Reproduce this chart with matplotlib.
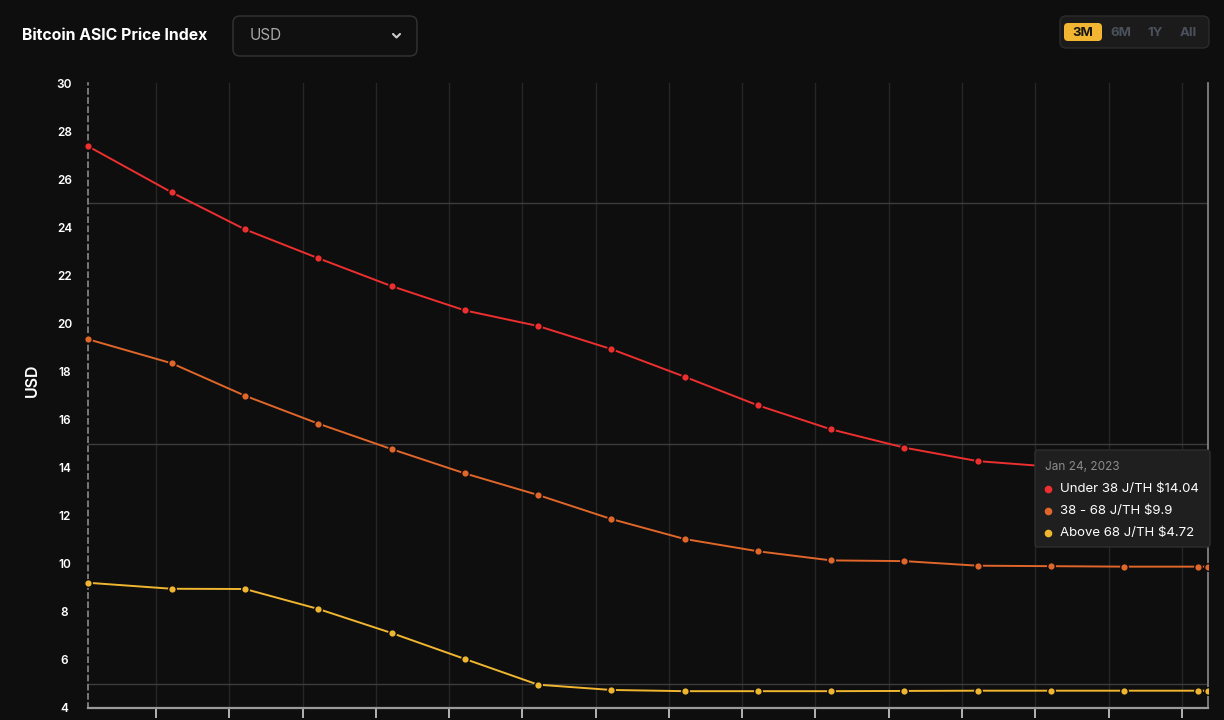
import numpy as np
import pandas as pd
import matplotlib
matplotlib.use("Agg")
import matplotlib.pyplot as plt
import matplotlib.dates as mdates
from matplotlib.patches import FancyBboxPatch, Rectangle
from matplotlib.ticker import MultipleLocator

plt.rcParams['font.family'] = ['Inter', 'DejaVu Sans']

# -------------------------------
# data
# -------------------------------
dates = ['2022-10-24', '2022-11-01', '2022-11-08', '2022-11-15', '2022-11-22',
         '2022-11-29', '2022-12-06', '2022-12-13', '2022-12-20', '2022-12-27',
         '2023-01-03', '2023-01-10', '2023-01-17', '2023-01-24', '2023-01-31',
         '2023-02-07', '2023-02-08']

under_38 = [27.37, 25.45, 23.91, 22.71, 21.55, 20.54, 19.89, 18.93, 17.78,
            16.59, 15.59, 14.83, 14.27, 14.04, 13.95, 13.9, 13.9]
mid_38_68 = [19.34, 18.34, 16.99, 15.83, 14.77, 13.76, 12.86, 11.86, 11.03,
             10.52, 10.14, 10.11, 9.92, 9.9, 9.88, 9.88, 9.88]
above_68 = [9.21, 8.96, 8.95, 8.12, 7.12, 6.04, 4.97, 4.75, 4.70,
            4.70, 4.70, 4.71, 4.72, 4.72, 4.72, 4.72, 4.72]

series_names = ['Under 38 J/TH', '38 - 68 J/TH', 'Above 68 J/TH']
series_colors = ['#ee2f2f', '#e0662a', '#f0b630']
hover_date = '2023-01-24'

bg = '#0e0e0e'
x = mdates.date2num(pd.to_datetime(dates))

fig = plt.figure(figsize=(12.24, 7.2), dpi=100, facecolor=bg)
ax = fig.add_axes([88 / 1224, 12 / 720, 1120 / 1224, 625 / 720])
ax.set_facecolor(bg)

# clip on the right edge only (first marker sits fully left of the axis)
clip_box = Rectangle((-0.02, -0.05), 1.02, 1.1, transform=ax.transAxes)
for vals, col in zip([under_38, mid_38_68, above_68], series_colors):
    ln, = ax.plot(x, vals, color=col, lw=1.4, marker='o', ms=5.5,
                  mec=bg, mew=1.0, zorder=3)
    ln.set_clip_path(clip_box)

ax.set_xlim(x[0], x[-1])
ax.set_ylim(4, 30)

# y axis: labels every 2, grid every 5
ax.yaxis.set_major_locator(MultipleLocator(2))
ax.yaxis.set_minor_locator(MultipleLocator(5))
ax.grid(which='minor', axis='y', color='#3c3c3c', lw=1.0)
ax.tick_params(axis='y', which='both', length=0, pad=17, labelcolor='white',
               labelsize=8.5)
for lbl in ax.get_yticklabels():
    lbl.set_ha('center')
    lbl.set_fontweight('semibold')

# x axis: weekly ticks, labels cut off
xticks = mdates.date2num(pd.date_range('2022-10-30 12:00', periods=15, freq='7D'))
ax.set_xticks(xticks)
ax.grid(which='major', axis='x', color='#262626', lw=1.0)
ax.tick_params(axis='x', length=7, width=1.2, color='#d0d0d0', labelbottom=False)

ax.set_ylabel('USD', color='white', fontsize=11.5, fontweight='semibold')
ax.yaxis.set_label_coords(-48 / 1120, 0.525)

ax.spines['top'].set_visible(False)
ax.spines['left'].set_color('#8a8a8a')
ax.spines['left'].set_linestyle((0, (3, 2.5)))
ax.spines['left'].set_linewidth(1.2)
ax.spines['bottom'].set_color('#9a9a9a')
ax.spines['bottom'].set_linewidth(1.6)
ax.spines['right'].set_color('#8a8a8a')
ax.spines['right'].set_linewidth(1.2)

# -------------------------------
# overlay in pixel coordinates: header + tooltip
# -------------------------------
ui = fig.add_axes([0, 0, 1, 1], zorder=10)
ui.set_xlim(0, 1224)
ui.set_ylim(720, 0)
ui.axis('off')

ui.text(22, 35, 'Bitcoin ASIC Price Index', color='white', fontsize=11.4,
        fontweight='bold', va='center', ha='left')

ui.add_patch(FancyBboxPatch((233, 16), 184, 40, boxstyle='round,pad=0,rounding_size=7',
                            fc='#101010', ec='#343434', lw=1.0))
ui.text(250, 35.5, 'USD', color='#a8a8a8', fontsize=11, va='center', ha='left')
ui.plot([393, 396.5, 400], [34, 37.5, 34], color='#cfcfcf', lw=1.5,
        solid_capstyle='round')

ui.add_patch(FancyBboxPatch((1060, 16), 149, 32, boxstyle='round,pad=0,rounding_size=6',
                            fc='#1b1b1b', ec='#2b2b2b', lw=1.0))
ui.add_patch(FancyBboxPatch((1064, 23), 38, 18, boxstyle='round,pad=0,rounding_size=4',
                            fc='#f2b632', ec='none'))
ranges = ['3M', '6M', '1Y', 'All']
range_x = [1083, 1121, 1155, 1188]
for lab, rx in zip(ranges, range_x):
    col = '#161616' if lab == '3M' else '#4b515c'
    ui.text(rx, 32.5, lab, color=col, fontsize=9.5, fontweight='bold',
            ha='center', va='center')

# tooltip
i = dates.index(hover_date)
ui.add_patch(FancyBboxPatch((1035, 450), 175, 97, boxstyle='round,pad=0,rounding_size=3',
                            fc='#1f1f1f', ec='#2e2e2e', lw=1.0))
ui.text(1045, 466.5, pd.to_datetime(hover_date).strftime('%b %d, %Y').replace(' 0', ' '),
        color='#8c8c8c', fontsize=8.5, va='center', ha='left')
for k, (name, vals, col) in enumerate(zip(series_names,
                                          [under_38, mid_38_68, above_68],
                                          series_colors)):
    yy = 489 + 22 * k
    ui.plot(1048, yy, 'o', ms=5.5, color=col, mec='none')
    ui.text(1060, yy, f'{name} ${vals[i]:g}', color='white', fontsize=9.5,
            va='center', ha='left')

fig.savefig('out.png', dpi=100, facecolor=bg)
